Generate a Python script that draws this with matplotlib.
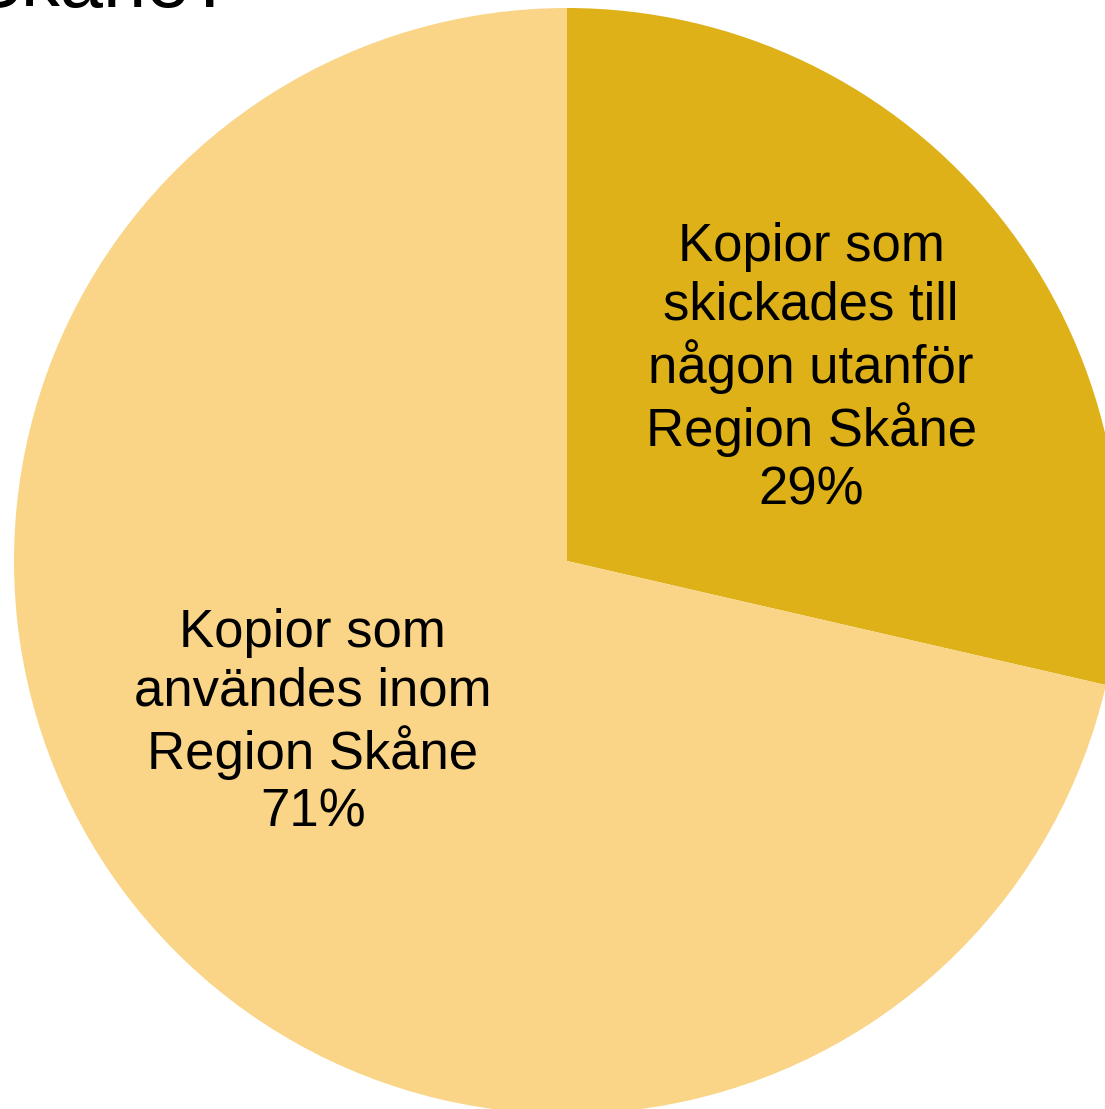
import matplotlib.pyplot as plt
import numpy as np

plt.rcParams['font.family'] = ['Liberation Sans', 'DejaVu Sans']

labels = ['Kopior som\nskickades till\nnågon utanför\nRegion Skåne',
          'Kopior som\nanvändes inom\nRegion Skåne']
values = [28.6, 71.4]
colors = ['#DDB117', '#FAD587']
title = 'Skåne?'

W, H = 1105, 1109
fig = plt.figure(figsize=(W / 100, H / 100), dpi=100)

# pie centre and radius in pixels (from top-left)
cx, cy, r = 567, 561, 553
ax = fig.add_axes([(cx - r) / W, (H - cy - r) / H, 2 * r / W, 2 * r / H])
wedges, _ = ax.pie(values, colors=colors, startangle=90, counterclock=False,
                   radius=1, wedgeprops=dict(linewidth=0))
ax.set_xlim(-1, 1)
ax.set_ylim(-1, 1)
ax.set_aspect('equal')
ax.axis('off')

# label positions (distance from centre, angle in degrees)
label_pos = [(0.562, 38.2), (0.545, 212.5)]
for lab, v, (d, ang) in zip(labels, values, label_pos):
    a = np.deg2rad(ang)
    ax.text(d * np.cos(a), d * np.sin(a), f'{lab}\n{v:.0f}%',
            ha='center', va='center', fontsize=38, linespacing=1.2)

# title is cut off at the top edge in the original
fig.text(233 / W, 1 - 7 / H, title, ha='right', va='baseline', fontsize=56)

fig.savefig('out.png', dpi=100)
